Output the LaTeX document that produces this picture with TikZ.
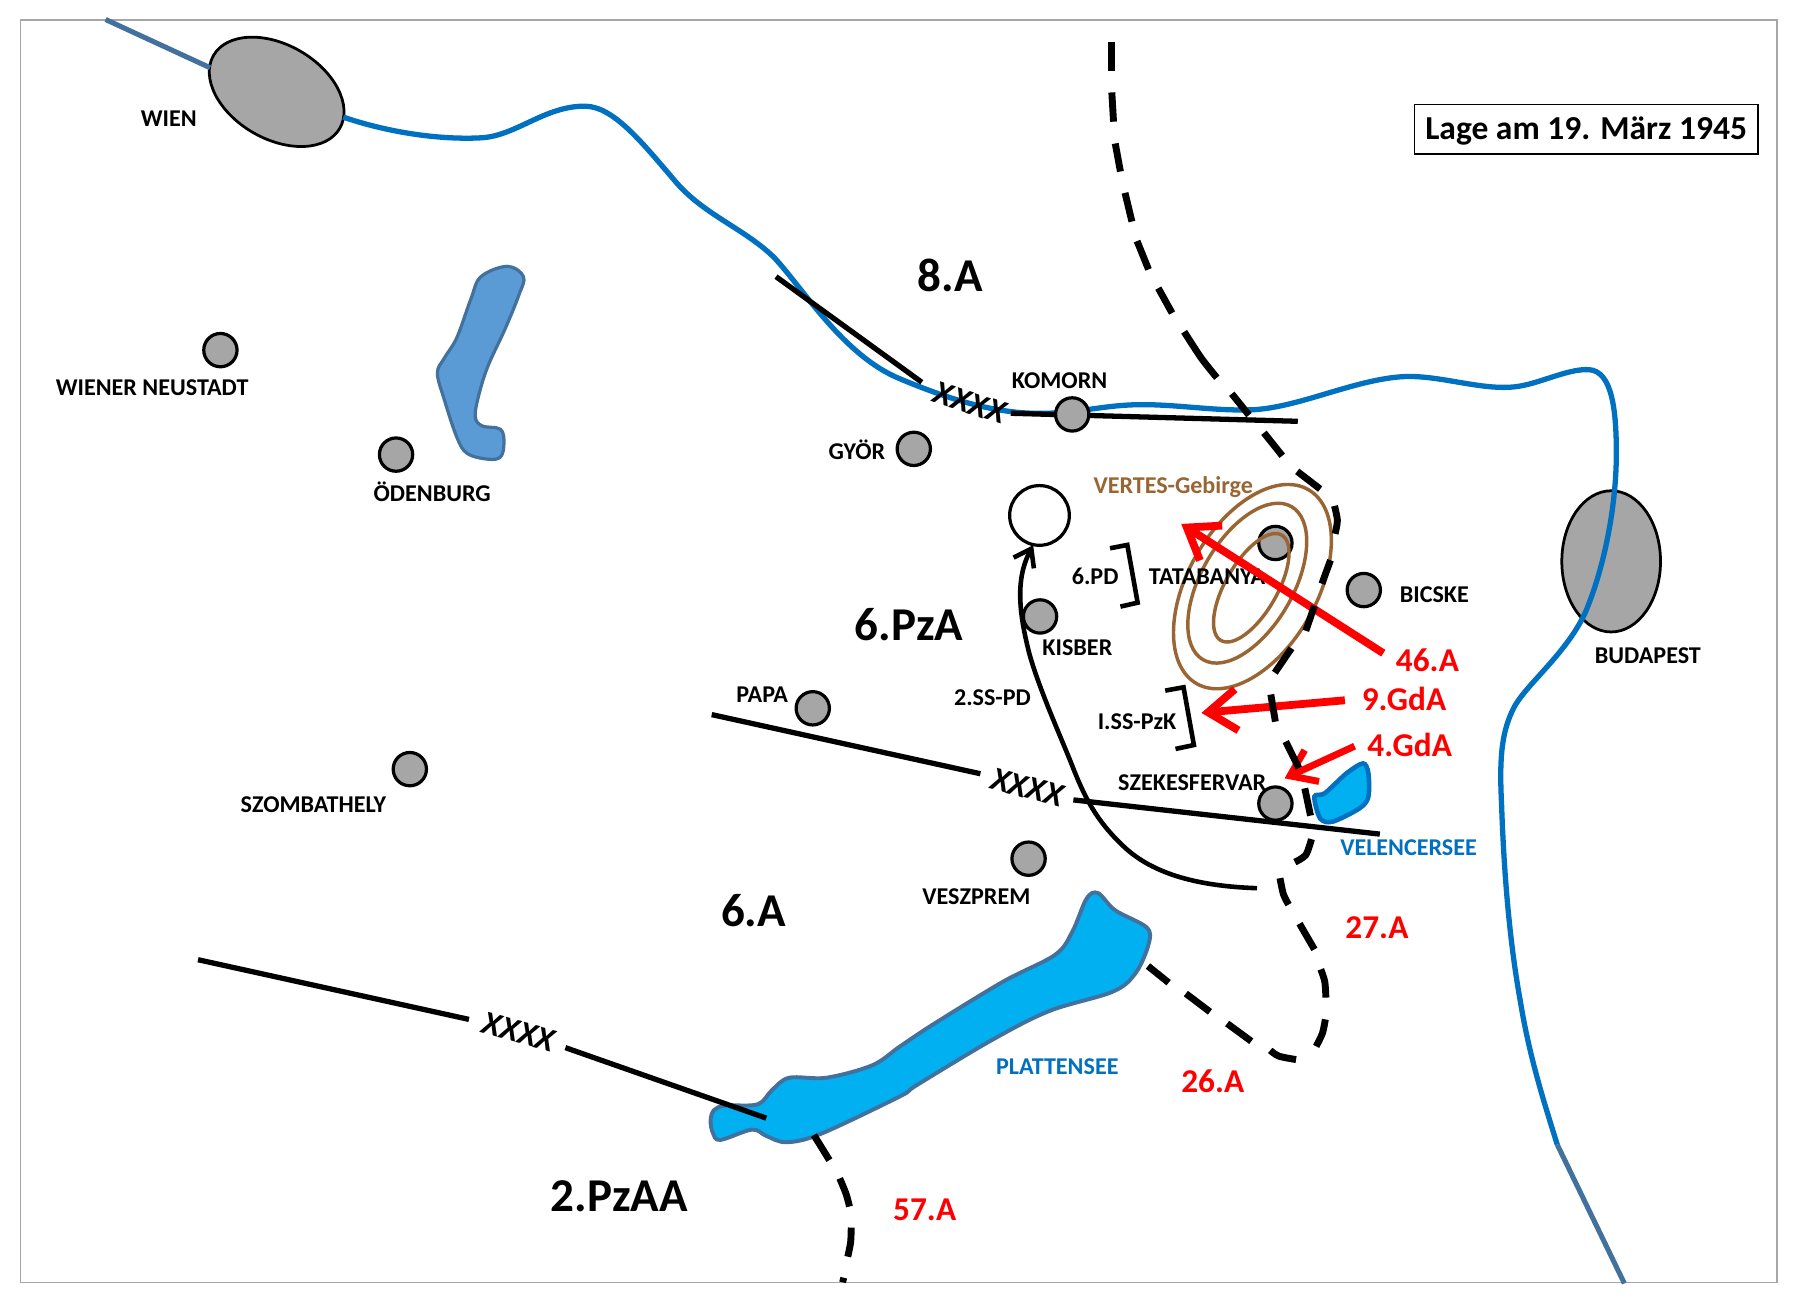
\documentclass[tikz,border=0pt]{standalone}
\usepackage{fontspec}
\setmainfont{Carlito}
\usetikzlibrary{shapes.geometric,arrows.meta}
\definecolor{riverblue}{HTML}{0070C0}
\definecolor{steelb}{HTML}{41719C}
\definecolor{lakelight}{HTML}{00B0F0}
\definecolor{lakemid}{HTML}{5B9BD5}
\definecolor{citygray}{HTML}{A6A6A6}
\definecolor{hillbrown}{HTML}{996633}
\definecolor{framegray}{HTML}{A6A6A6}
\tikzset{
  x=1pt,y=-1pt,
  river/.style={line width=4.6pt,riverblue},
  riverend/.style={line width=4.4pt,steelb},
  city/.style={circle,draw=black,fill=citygray,line width=2.8pt,minimum size=29pt,inner sep=0pt},
  bigcity/.style={ellipse,draw=black,fill=citygray,line width=2.4pt,inner sep=0pt},
  hill/.style={ellipse,draw=hillbrown,line width=3pt,inner sep=0pt,rotate=-30},
  front/.style={line width=4.6pt,black},
  dashseg/.style={line width=6pt,black},
  label/.style={font=\fontsize{21}{23}\selectfont\bfseries,inner sep=0pt,text=black},
  bluelabel/.style={label,text=riverblue},
  armylabel/.style={font=\fontsize{41}{44}\selectfont\bfseries,inner sep=0pt,text=black},
  redlabel/.style={font=\fontsize{29}{32}\selectfont\bfseries,inner sep=0pt,text=red},
  xxxx/.style={font=\fontsize{29}{32}\selectfont\bfseries\itshape,inner sep=0pt,text=black},
  bracket/.style={line width=4pt,black},
  attack/.style={line width=6.8pt,red,-{Straight Barb[length=25pt,width=36pt,line width=6.8pt]}},
  attacksmall/.style={line width=6pt,red,-{Straight Barb[length=21pt,width=30pt,line width=6pt]}},
  move/.style={line width=4pt,black,-{Straight Barb[length=14pt,width=20pt,line width=4pt]}}
}
\begin{document}
\begin{tikzpicture}
\useasboundingbox (0,0) rectangle (1568,1137.6);
\fill[white] (0,0) rectangle (1568,1137.6);
\draw[framegray,line width=1.2pt] (18,17.4) rectangle (1548,1117);

% lakes
\draw[steelb,fill=lakemid,line width=2.8pt] plot[smooth cycle,tension=0.6] coordinates {(442,232)(456,241)(452,257)(440,286.5)(425,319)(417,344.5)(414,363)(420,371)(436,374)(439,386)(436,398)(425,400)(407,395)(398,381)(387,348)(381,325)(387,312)(398,294)(410,261)(419,241)};
\draw[steelb,fill=lakelight,line width=3.4pt] plot[smooth cycle,tension=0.55] coordinates {(619,976)(622,967)(632,963)(660,962)(672.5,949.6)(687.5,938.8)(720,938.8)(760,927.9)(784,911.5)(814,891.6)(874,855)(919,831.8)(934,811.8)(946.5,782.8)(956.5,778)(971.5,793)(999,808)(1000.5,822.7)(989,848)(969,864)(914,880.7)(864,906)(799,945)(784,955)(715,987.7)(685,995)(667.5,989.5)(655,984)(627.5,993)(621,987)};
\draw[riverblue,fill=lakelight,line width=4pt] plot[smooth cycle,tension=0.5] coordinates {(1145,694)(1154,691)(1173,673.6)(1187.4,665)(1192,673.6)(1192,694)(1184.5,704)(1161,715.7)(1150,713)};

% front ends
\coordinate (fa1) at (676,241); \coordinate (fa2) at (803,333);
\coordinate (fb1) at (880.5,360); \coordinate (fb2) at (1130.5,367);
\coordinate (fc1) at (620,622.5); \coordinate (fc2) at (854,674);
\coordinate (fd1) at (935,696.8); \coordinate (fd2) at (1202,726.6);
\coordinate (fe1) at (172.5,836); \coordinate (fe2) at (408.5,888);
\coordinate (ff1) at (492.5,912.6); \coordinate (ff2) at (667.5,974);

% big cities under the river
\node[bigcity,minimum width=127pt,minimum height=82pt,rotate=-30] (wien) at (241,80) {};
\node[bigcity,minimum width=86pt,minimum height=123pt] (budapest) at (1403.5,489) {};

% danube
\draw[riverend] (92,17) -- (183,59);
\draw[river] (299,102) .. controls (340,116) and (385,122) .. (420,120) .. controls (450,118) and (475,92) .. (510,92.5) .. controls (535,93) and (560,125) .. (590,160) .. controls (615,188) and (650,200) .. (675,225) .. controls (700,252) and (735,310) .. (784,330) .. controls (820,345) and (860,359) .. (900,360) .. controls (940,361) and (960,352) .. (999,352.5) .. controls (1030,353) and (1060,358) .. (1089,357) .. controls (1130,356) and (1180,330) .. (1224,328) .. controls (1255,327) and (1290,340) .. (1319,337) .. controls (1340,335) and (1365,321) .. (1384,322) .. controls (1405,323) and (1408,360) .. (1408,395) .. controls (1408,440) and (1398,490) .. (1384,526) .. controls (1370,565) and (1330,595) .. (1319,616) .. controls (1308,637) and (1306,660) .. (1308,700) .. controls (1310,760) and (1315,820) .. (1324,870) .. controls (1332,920) and (1345,960) .. (1356.5,997);
\draw[riverend] (1356.5,997) -- (1415,1118);

\draw[front] (fa1) -- (fa2);
\draw[front] (fb1) -- (fb2);
\draw[front] (fc1) -- (fc2);
\draw[front] (fd1) -- (fd2);
\draw[front] (fe1) -- (fe2);
\draw[front] (ff1) -- (ff2);
\node[xxxx,rotate=-18] (x1) at (845,351) {XXXX};
\node[xxxx,rotate=-15] (x2) at (895,686) {XXXX};
\node[xxxx,rotate=-15] (x3) at (452,899) {XXXX};

% cities
\node[city] (cwn) at (192,305) {};
\node[city] (code) at (345,396) {};
\node[city] (cszo) at (357,670) {};
\node[city] (cpapa) at (708,617) {};
\node[city] (cgyor) at (796,391) {};
\node[city] (ckom) at (934,361) {};
\node[city] (ckis) at (906,537) {};
\node[city] (ctat) at (1111,473) {};
\node[city] (cbic) at (1188,514) {};
\node[city] (csze) at (1111,700) {};
\node[city] (cves) at (896,748) {};
\node[circle,draw=black,fill=white,line width=2.8pt,minimum size=52pt,inner sep=0pt] (target) at (905.5,449) {};

% hills
\node[hill,minimum width=112pt,minimum height=195pt] (h1) at (1091,511) {};
\node[hill,minimum width=80pt,minimum height=154pt] (h2) at (1086.5,508) {};
\node[hill,minimum width=45pt,minimum height=106pt] (h3) at (1090,512) {};

% labels
\node[label] (lwien) at (147,103) {WIEN};
\node[label] (lwn) at (132.5,338) {WIENER NEUSTADT};
\node[label] (lode) at (376.5,428) {ÖDENBURG};
\node[label] (lgyor) at (746.5,392) {GYÖR};
\node[label] (lkom) at (923,332) {KOMORN};
\node[label,text=hillbrown] (lver) at (1022,424) {VERTES-Gebirge};
\node[label] (l6pd) at (954,502) {6.PD};
\node[label] (ltat) at (1051.5,502) {TATABANYA};
\node[label] (lbic) at (1249.5,518) {BICSKE};
\node[label] (lbud) at (1435.5,571) {BUDAPEST};
\node[label] (lkis) at (938.5,564) {KISBER};
\node[label] (lpapa) at (664,605) {PAPA};
\node[label] (l2ss) at (864.5,608) {2.SS-PD};
\node[label] (liss) at (990.5,629) {I.SS-PzK};
\node[label] (lsze) at (1038.5,682) {SZEKESFERVAR};
\node[label] (lszo) at (273,701) {SZOMBATHELY};
\node[label] (lves) at (850.5,781) {VESZPREM};
\node[bluelabel] (lvel) at (1227,738) {VELENCERSEE};
\node[bluelabel] (lpla) at (921,929) {PLATTENSEE};
\node[armylabel] (a8) at (827.5,240) {8.A};
\node[armylabel] (a6pz) at (792,544) {6.PzA};
\node[armylabel] (a6) at (656.5,793) {6.A};
\node[armylabel] (a2pz) at (539.5,1042) {2.PzAA};
\node[redlabel] (r46) at (1243.5,575) {46.A};
\node[redlabel] (r9) at (1223,609) {9.GdA};
\node[redlabel] (r4) at (1228,649) {4.GdA};
\node[redlabel] (r27) at (1199.5,808) {27.A};
\node[redlabel] (r26) at (1056.5,942) {26.A};
\node[redlabel] (r57) at (805.5,1054) {57.A};
\node[draw=black,line width=1.2pt,minimum width=299.5pt,minimum height=43pt,inner sep=0pt,font=\fontsize{29.2}{32}\selectfont\bfseries] (title) at (1381.7,112.5) {\raisebox{-9pt}[0pt][0pt]{Lage am 19. März 1945}};

% brackets
\draw[bracket] (967,477.6) -- (982,474.7) -- (991,525) -- (976,528.4);
\draw[bracket] (1015,601.6) -- (1031,598.7) -- (1040,649) -- (1024,652.4);

% attacks
\coordinate (t46s) at (1205,569); \coordinate (t46e) at (1029,456.4);
\coordinate (t9s) at (1171.5,610); \coordinate (t9e) at (1046.6,621);
\coordinate (t4s) at (1180,650); \coordinate (t4e) at (1119,678);
\draw[attack] (t46s) -- (t46e);
\draw[attack] (t9s) -- (t9e);
\draw[attacksmall] (t4s) -- (t4e);

% german move
\draw[move] (1095,773.7) .. controls (1045,772) and (1005,762) .. (979,737.5) .. controls (955,715) and (945,695) .. (934,667) .. controls (925,644) and (905,600) .. (896.5,568.8) .. controls (888,535) and (884,505) .. (900,475);

% soviet front (dashed)
\draw[dashseg] (968,37) -- (968,61.7);
\draw[dashseg] (968.5,80.5) -- (970,106);
\draw[dashseg] (971.5,125) -- (976,149.4);
\draw[dashseg] (980,168) -- (986,193);
\draw[dashseg] (990.5,210) -- (1000.5,234.7);
\draw[dashseg] (1009,251) -- (1021,272.7);
\draw[dashseg] plot[smooth] coordinates {(1031.5,289)(1046.5,312)(1060,329)};
\draw[dashseg] (1073,343) -- (1088,361.6);
\draw[dashseg] (1101,377) -- (1117,397);
\draw[dashseg] (1130,410.6) -- (1150,426);
\draw[dashseg] plot[smooth] coordinates {(1162.5,440.7)(1165,453.4)(1163,465)};
\draw[dashseg] (1159,488) -- (1151.5,508.5);
\draw[dashseg] (1145,527.7) -- (1137.5,549.5);
\draw[dashseg] (1125,564.7) -- (1110.5,586);
\draw[dashseg] (1107,605) -- (1111,628.6);
\draw[dashseg] (1120,646) -- (1131.4,669);
\draw[dashseg] (1136.6,686.7) -- (1141.6,710.5);
\draw[dashseg] plot[smooth] coordinates {(1142.4,731)(1137.5,744.7)(1128,751)};
\draw[dashseg] plot[smooth] coordinates {(1115,765)(1118,779)(1122.5,788)};
\draw[dashseg] (1132,804.6) -- (1145,827);
\draw[dashseg] plot[smooth] coordinates {(1150.5,844.4)(1154,855)(1155,869)};
\draw[dashseg] plot[smooth] coordinates {(1154.5,888)(1152,900)(1146.5,911.5)};
\draw[dashseg] plot[smooth] coordinates {(1129,923)(1114,920)(1106.5,915)};
\draw[dashseg] (1090,907) -- (1069,891.6);
\draw[dashseg] (1054,881.4) -- (1033,865.5);
\draw[dashseg] (1018,856) -- (1000,841.5);
\draw[dashseg] (709,988.8) -- (722.5,1010.6);
\draw[dashseg] plot[smooth] coordinates {(731.5,1026.5)(737,1040)(740,1051)};
\draw[dashseg] plot[smooth] coordinates {(741.5,1069.3)(741,1082)(738.5,1094.7)};
\draw[dashseg] (735,1113) -- (734,1117);
\end{tikzpicture}
\end{document}
